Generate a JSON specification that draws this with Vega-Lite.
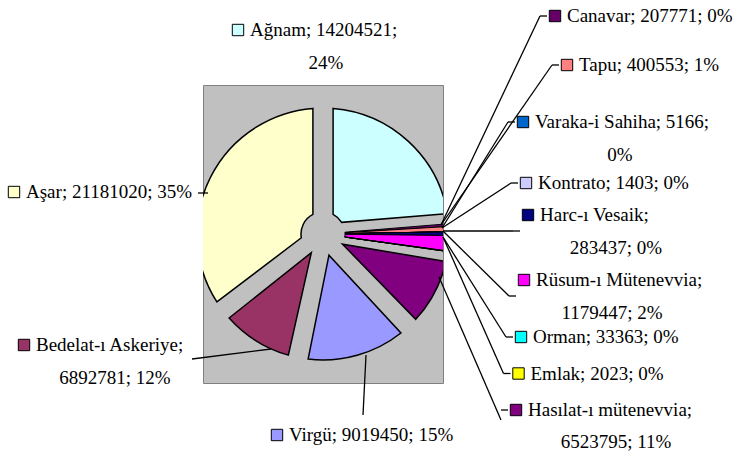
{
  "$schema": "https://vega.github.io/schema/vega-lite/v6.json",
  "width": 240,
  "height": 298,
  "autosize": "none",
  "padding": {"left": 203, "top": 85, "right": 294, "bottom": 74},
  "background": "white",
  "view": {"fill": "#c0c0c0", "stroke": "#808080", "strokeWidth": 1},
  "config": {"text": {"font": "Liberation Serif", "fontSize": 19, "fill": "black"}},
  "data": {"values": [
    {"i": 1, "name": "Ağnam", "value": 14204521, "line1": "Ağnam; 14204521;", "line2": "24%"},
    {"i": 2, "name": "Canavar", "value": 207771, "line1": "Canavar; 207771; 0%", "line2": ""},
    {"i": 3, "name": "Tapu", "value": 400553, "line1": "Tapu; 400553; 1%", "line2": ""},
    {"i": 4, "name": "Varaka-i Sahiha", "value": 5166, "line1": "Varaka-i Sahiha; 5166;", "line2": "0%"},
    {"i": 5, "name": "Kontrato", "value": 1403, "line1": "Kontrato; 1403; 0%", "line2": ""},
    {"i": 6, "name": "Harc-ı Vesaik", "value": 283437, "line1": "Harc-ı Vesaik;", "line2": "283437; 0%"},
    {"i": 7, "name": "Rüsum-ı Mütenevvia", "value": 1179447, "line1": "Rüsum-ı Mütenevvia;", "line2": "1179447; 2%"},
    {"i": 8, "name": "Orman", "value": 33363, "line1": "Orman; 33363; 0%", "line2": ""},
    {"i": 9, "name": "Emlak", "value": 2023, "line1": "Emlak; 2023; 0%", "line2": ""},
    {"i": 10, "name": "Hasılat-ı mütenevvia", "value": 6523795, "line1": "Hasılat-ı mütenevvia;", "line2": "6523795; 11%"},
    {"i": 11, "name": "Virgü", "value": 9019450, "line1": "Virgü; 9019450; 15%", "line2": ""},
    {"i": 12, "name": "Bedelat-ı Askeriye", "value": 6892781, "line1": "Bedelat-ı Askeriye;", "line2": "6892781; 12%"},
    {"i": 13, "name": "Aşar", "value": 21181020, "line1": "Aşar; 21181020; 35%", "line2": ""}
  ]},
  "layer": [
    {
      "encoding": {
        "theta": {"field": "value", "type": "quantitative", "stack": true, "scale": {"nice": false}},
        "order": {"field": "i", "type": "quantitative", "sort": "ascending"},
        "color": {"field": "name", "type": "nominal", "legend": null,
          "scale": {
            "domain": ["Ağnam", "Canavar", "Tapu", "Varaka-i Sahiha", "Kontrato", "Harc-ı Vesaik", "Rüsum-ı Mütenevvia", "Orman", "Emlak", "Hasılat-ı mütenevvia", "Virgü", "Bedelat-ı Askeriye", "Aşar"],
            "range": ["#CCFFFF", "#660066", "#FF8080", "#0066CC", "#CCCCFF", "#000080", "#FF00FF", "#00FFFF", "#FFFF00", "#800080", "#9999FF", "#993366", "#FFFFCC"]
          }}
      },
      "layer": [
        {
          "mark": {"type": "arc", "outerRadius": 126, "innerRadius": 22, "padAngle": 0.158, "stroke": "black", "strokeWidth": 1.5, "clip": true},
          "encoding": {"opacity": {"condition": {"test": "datum.value < 2000000", "value": 0}, "value": 1}}
        },
        {
          "mark": {"type": "arc", "outerRadius": 126, "innerRadius": 22, "stroke": "black", "strokeWidth": 1, "clip": true},
          "encoding": {"opacity": {"condition": {"test": "datum.value < 2000000", "value": 1}, "value": 0}}
        }
      ]
    },
    {
      "layer": [
        {
          "transform": [{"filter": {"field": "name", "oneOf": ["Canavar", "Tapu"]}}],
          "encoding": {
            "x": {"field": "name", "type": "nominal", "axis": null, "scale": {"type": "point", "padding": 0, "domain": ["Canavar", "Tapu"], "range": [352, 364]}},
            "y": {"field": "name", "type": "nominal", "axis": null, "scale": {"type": "point", "padding": 0, "domain": ["Canavar", "Tapu"], "range": [-69, -20]}}
          },
          "layer": [
            {"mark": {"type": "rule", "color": "black", "strokeWidth": 1.3, "xOffset": -15}, "encoding": {"x2": {"value": 238}, "y2": {"value": 140}}},
            {"mark": {"type": "rule", "color": "black", "strokeWidth": 1.3, "xOffset": -15, "x2Offset": -8}, "encoding": {"x2": {"field": "name"}}},
            {"mark": {"type": "point", "shape": "square", "filled": true, "size": 130, "stroke": "black", "strokeWidth": 1, "opacity": 1}, "encoding": {"color": {"field": "name", "type": "nominal", "legend": null}}},
            {"mark": {"type": "text", "font": "Liberation Serif", "align": "left", "baseline": "middle", "dx": 12}, "encoding": {"text": {"field": "line1"}}}
          ]
        },
        {
          "transform": [{"filter": {"field": "name", "oneOf": ["Varaka-i Sahiha", "Kontrato"]}}],
          "encoding": {
            "x": {"field": "name", "type": "nominal", "axis": null, "scale": {"type": "point", "padding": 0, "domain": ["Varaka-i Sahiha", "Kontrato"], "range": [320, 323]}},
            "y": {"field": "name", "type": "nominal", "axis": null, "scale": {"type": "point", "padding": 0, "domain": ["Varaka-i Sahiha", "Kontrato"], "range": [37, 98]}}
          },
          "layer": [
            {"mark": {"type": "rule", "color": "black", "strokeWidth": 1.3, "xOffset": -15}, "encoding": {"x2": {"value": 239}, "y2": {"value": 143}}},
            {"mark": {"type": "rule", "color": "black", "strokeWidth": 1.3, "xOffset": -15, "x2Offset": -8}, "encoding": {"x2": {"field": "name"}}},
            {"mark": {"type": "point", "shape": "square", "filled": true, "size": 130, "stroke": "black", "strokeWidth": 1, "opacity": 1}, "encoding": {"color": {"field": "name", "type": "nominal", "legend": null}}},
            {"mark": {"type": "text", "font": "Liberation Serif", "align": "left", "baseline": "middle", "dx": 12}, "encoding": {"text": {"field": "line1"}}},
            {"mark": {"type": "text", "font": "Liberation Serif", "align": "center", "baseline": "middle", "dx": 97, "dy": 33}, "encoding": {"text": {"field": "line2"}}}
          ]
        },
        {
          "transform": [{"filter": {"field": "name", "oneOf": ["Harc-ı Vesaik", "Rüsum-ı Mütenevvia"]}}],
          "encoding": {
            "x": {"field": "name", "type": "nominal", "axis": null, "scale": {"type": "point", "padding": 0, "domain": ["Harc-ı Vesaik", "Rüsum-ı Mütenevvia"], "range": [325, 321]}},
            "y": {"field": "name", "type": "nominal", "axis": null, "scale": {"type": "point", "padding": 0, "domain": ["Harc-ı Vesaik", "Rüsum-ı Mütenevvia"], "range": [130, 195]}}
          },
          "layer": [
            {"mark": {"type": "rule", "color": "black", "strokeWidth": 1.3, "xOffset": -15, "yOffset": 16}, "encoding": {"x2": {"value": 240}, "y2": {"value": 146}}},
            {"mark": {"type": "rule", "color": "black", "strokeWidth": 1.3, "xOffset": -15, "x2Offset": -8, "yOffset": 16}, "encoding": {"x2": {"field": "name"}}},
            {"mark": {"type": "point", "shape": "square", "filled": true, "size": 130, "stroke": "black", "strokeWidth": 1, "opacity": 1}, "encoding": {"color": {"field": "name", "type": "nominal", "legend": null}}},
            {"mark": {"type": "text", "font": "Liberation Serif", "align": "left", "baseline": "middle", "dx": 12}, "encoding": {"text": {"field": "line1"}}},
            {"mark": {"type": "text", "font": "Liberation Serif", "align": "center", "baseline": "middle", "dx": 88, "dy": 33}, "encoding": {"text": {"field": "line2"}}}
          ]
        },
        {
          "transform": [{"filter": {"field": "name", "oneOf": ["Orman", "Emlak", "Hasılat-ı mütenevvia"]}}],
          "encoding": {
            "x": {"field": "name", "type": "nominal", "axis": null, "scale": {"type": "point", "padding": 0, "domain": ["Orman", "Emlak", "Hasılat-ı mütenevvia"], "range": [318, 313]}},
            "y": {"field": "name", "type": "nominal", "axis": null, "scale": {"type": "point", "padding": 0, "domain": ["Orman", "Emlak", "Hasılat-ı mütenevvia"], "range": [252, 325]}}
          },
          "layer": [
            {"transform": [{"filter": "datum.value < 2000000"}], "mark": {"type": "rule", "color": "black", "strokeWidth": 1.3, "xOffset": -15}, "encoding": {"x2": {"value": 240}, "y2": {"value": 152}}},
            {"transform": [{"filter": "datum.value >= 2000000"}], "mark": {"type": "rule", "color": "black", "strokeWidth": 1.3, "xOffset": -15, "yOffset": 10}, "encoding": {"x2": {"value": 236}, "y2": {"value": 192}}},
            {"mark": {"type": "rule", "color": "black", "strokeWidth": 1.3, "xOffset": -15, "x2Offset": -8}, "encoding": {"x2": {"field": "name"}}},
            {"mark": {"type": "point", "shape": "square", "filled": true, "size": 130, "stroke": "black", "strokeWidth": 1, "opacity": 1}, "encoding": {"color": {"field": "name", "type": "nominal", "legend": null}}},
            {"mark": {"type": "text", "font": "Liberation Serif", "align": "left", "baseline": "middle", "dx": 12}, "encoding": {"text": {"field": "line1"}}},
            {"mark": {"type": "text", "font": "Liberation Serif", "align": "center", "baseline": "middle", "dx": 100, "dy": 32}, "encoding": {"text": {"field": "line2"}}}
          ]
        }
      ],
      "resolve": {"scale": {"x": "independent", "y": "independent"}}
    },
    {
      "transform": [{"filter": {"field": "name", "oneOf": ["Aşar", "Bedelat-ı Askeriye"]}}],
      "encoding": {
        "x": {"field": "name", "type": "nominal", "axis": null,
          "scale": {"type": "point", "padding": 0, "range": [-189, -179], "domain": ["Aşar", "Bedelat-ı Askeriye"]}},
        "y": {"field": "name", "type": "nominal", "axis": null,
          "scale": {"type": "point", "padding": 0, "range": [107, 260], "domain": ["Aşar", "Bedelat-ı Askeriye"]}}
      },
      "layer": [
        {
          "mark": {"type": "point", "shape": "square", "filled": true, "size": 130, "stroke": "black", "strokeWidth": 1, "opacity": 1},
          "encoding": {"color": {"field": "name", "type": "nominal", "legend": null}}
        },
        {
          "mark": {"type": "text", "font": "Liberation Serif", "align": "left", "baseline": "middle", "dx": 12},
          "encoding": {"text": {"field": "line1"}}
        },
        {
          "mark": {"type": "text", "font": "Liberation Serif", "align": "center", "baseline": "middle", "dx": 91, "dy": 33},
          "encoding": {"text": {"field": "line2"}}
        },
        {
          "transform": [{"filter": "datum.name === 'Aşar'"}],
          "mark": {"type": "rule", "color": "black", "strokeWidth": 1.3},
          "encoding": {"x": {"value": -5}, "x2": {"value": 5}, "y": {"value": 108}, "y2": {"value": 108}}
        },
        {
          "transform": [{"filter": "datum.name === 'Bedelat-ı Askeriye'"}],
          "mark": {"type": "rule", "color": "black", "strokeWidth": 1.3},
          "encoding": {"x": {"value": -11}, "x2": {"value": 68}, "y": {"value": 274}, "y2": {"value": 264}}
        }
      ]
    },
    {
      "transform": [{"filter": {"field": "name", "oneOf": ["Ağnam", "Virgü"]}}],
      "encoding": {
        "x": {"field": "name", "type": "nominal", "axis": null,
          "scale": {"type": "point", "padding": 0, "range": [35, 74], "domain": ["Ağnam", "Virgü"]}},
        "y": {"field": "name", "type": "nominal", "axis": null,
          "scale": {"type": "point", "padding": 0, "range": [-55, 350], "domain": ["Ağnam", "Virgü"]}}
      },
      "layer": [
        {
          "mark": {"type": "point", "shape": "square", "filled": true, "size": 130, "stroke": "black", "strokeWidth": 1, "opacity": 1},
          "encoding": {"color": {"field": "name", "type": "nominal", "legend": null}}
        },
        {
          "mark": {"type": "text", "font": "Liberation Serif", "align": "left", "baseline": "middle", "dx": 12},
          "encoding": {"text": {"field": "line1"}}
        },
        {
          "mark": {"type": "text", "font": "Liberation Serif", "align": "center", "baseline": "middle", "dx": 88, "dy": 33},
          "encoding": {"text": {"field": "line2"}}
        },
        {
          "transform": [{"filter": "datum.name === 'Virgü'"}],
          "mark": {"type": "rule", "color": "black", "strokeWidth": 1.3},
          "encoding": {"x": {"value": 160}, "x2": {"value": 163}, "y": {"value": 330}, "y2": {"value": 270}}
        }
      ]
    }
  ],
  "resolve": {"scale": {"x": "independent", "y": "independent"}}
}
